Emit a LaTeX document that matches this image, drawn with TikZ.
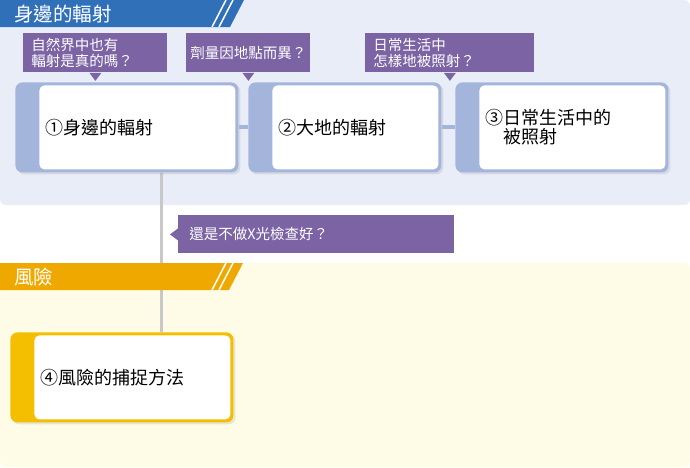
\documentclass[tikz,border=0pt]{standalone}
\usepackage{fontspec}
\setmainfont{Noto Sans CJK TC}
\usetikzlibrary{shadows,backgrounds}
\definecolor{headblue}{HTML}{3070B8}
\definecolor{bgblue}{HTML}{E9EDF8}
\definecolor{cardblue}{HTML}{A4B5DB}
\definecolor{askpurple}{HTML}{7B63A4}
\definecolor{headorange}{HTML}{EEA800}
\definecolor{bgyellow}{HTML}{FEFCE6}
\definecolor{cardyellow}{HTML}{F3BF00}
\definecolor{dropgray}{HTML}{C8C8C8}

\begin{document}
\begin{tikzpicture}[x=1pt,y=-1pt,thick]
\tikzstyle{card}=[rectangle,rounded corners=7pt,fill=cardblue,minimum height=90pt,inner xsep=30pt,inner ysep=0pt,align=left,font=\fontsize{18}{19}\selectfont,anchor=north west,drop shadow={opacity=.18,shadow xshift=2pt,shadow yshift=-2pt},path picture={\fill[white,rounded corners=5pt] ([xshift=24pt,yshift=-3pt]path picture bounding box.north west) rectangle ([xshift=-3pt,yshift=3pt]path picture bounding box.south east);}]
\tikzstyle{ask}=[rectangle,fill=askpurple,text=white,align=left,minimum height=39pt,inner ysep=0pt,anchor=north west,font=\fontsize{14.5}{16}\selectfont]
\tikzstyle{title}=[anchor=west,inner sep=0pt,text=white,font=\fontsize{19.5}{20}\selectfont]
\tikzstyle{link}=[draw=cardblue,line width=4pt]
\useasboundingbox (0,0) rectangle (690,467);

% section titles
\node[title] (radtitle) at (14,14) {身邊的輻射};
\node[title] (risktitle) at (14,277) {風險};

% cards
\node[card,minimum width=223pt,text width=163pt] (surround) at (15,82) {①身邊的輻射};
\node[card,minimum width=193pt,text width=133pt] (ground) at (248,82) {②大地的輻射};
\node[card,minimum width=213pt,text width=153pt] (daily) at (455,82) {③日常生活中的\\\hspace*{1em}被照射};
\node[card,fill=cardyellow,minimum width=223pt,text width=163pt] (riskway) at (10,332) {④風險的捕捉方法};
\draw[link] (surround) -- (ground);
\draw[link] (ground) -- (daily);

% questions
\node[ask,minimum width=144pt,text width=128pt,inner xsep=8pt] (ask1) at (23,33) {自然界中也有\\輻射是真的嗎？};
\node[ask,minimum width=124pt,text width=116pt,inner xsep=4pt] (ask2) at (186,33) {劑量因地點而異？};
\node[ask,minimum width=169pt,text width=153pt,inner xsep=8pt] (ask3) at (365,33) {日常生活中\\怎樣地被照射？};
\node[ask,minimum width=276pt,text width=254pt,inner xsep=11pt,minimum height=38pt] (ask4) at (178,215) {還是不做X光檢查好？};
\fill[askpurple] ([xshift=-6pt]ask1.south) -- ([yshift=-8pt]ask1.south) -- ([xshift=6pt]ask1.south) -- cycle;
\fill[askpurple] ([xshift=-6pt]ask2.south) -- ([yshift=-8pt]ask2.south) -- ([xshift=6pt]ask2.south) -- cycle;
\fill[askpurple] ([xshift=-6pt]ask3.south) -- ([yshift=-8pt]ask3.south) -- ([xshift=6pt]ask3.south) -- cycle;
\fill[askpurple] ([yshift=6pt]ask4.west) -- ([xshift=-8pt]ask4.west) -- ([yshift=-6pt]ask4.west) -- cycle;

\begin{pgfonlayer}{background}
\fill[bgblue,rounded corners=6pt] (0,0) rectangle (690,205);
\fill[bgyellow,rounded corners=6pt] (0,263) rectangle (690,467);
\draw[dropgray,line width=3pt] ([xshift=34.5pt]surround.south) -- ([xshift=34.5pt]surround.south |- riskway.north);
\fill[headblue] (0,0) -- (244,0) -- (230,27) -- (0,27) -- cycle;
\draw[white,line width=1.5pt] (226,0) -- (212,27) (233,0) -- (219,27);
\fill[headorange] (0,263) -- (243,263) -- (229,290) -- (0,290) -- cycle;
\draw[white,line width=1.5pt] (226,263) -- (212,290) (233,263) -- (219,290);
\end{pgfonlayer}
\end{tikzpicture}
\end{document}
